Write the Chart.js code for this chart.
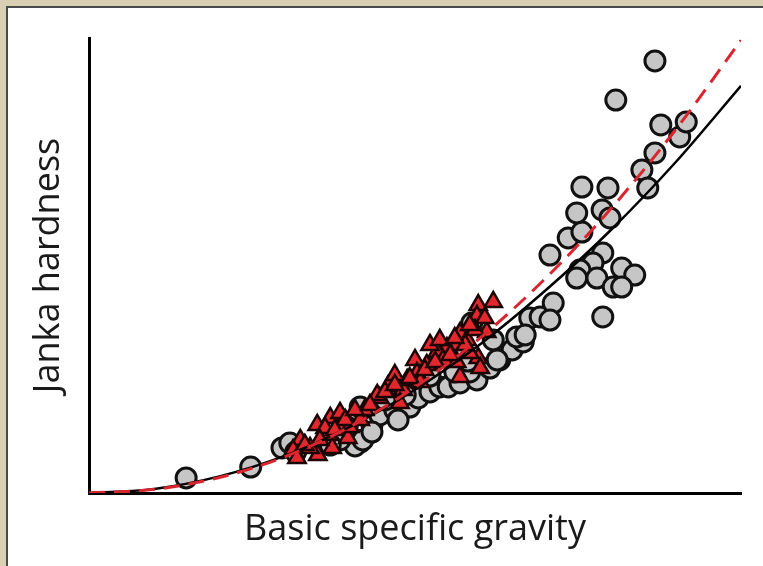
<!DOCTYPE html>
<html>
<head>
<meta charset="utf-8">
<script src="https://cdn.jsdelivr.net/npm/chart.js@4.4.1/dist/chart.umd.min.js"></script>
<style>
  html, body { margin: 0; padding: 0; background: #d8cfb5; }
  canvas { display: block; }
</style>
</head>
<body>
<canvas id="jankaChart" width="763" height="566"></canvas>
<script>
// basic specific gravity (x) / Janka hardness in kN (y)
const circleSG = [0.149, 0.248, 0.296, 0.308, 0.317, 0.396, 0.416, 0.416, 0.408, 0.420, 0.434, 0.446, 0.469, 0.492, 0.505, 0.523, 0.538, 0.551, 0.569, 0.595, 0.615, 0.630, 0.649, 0.666, 0.676, 0.692, 0.712, 0.707, 0.656, 0.626, 0.587, 0.620, 0.707, 0.735, 0.756, 0.748, 0.787, 0.799, 0.756, 0.796, 0.788, 0.773, 0.753, 0.748, 0.779, 0.804, 0.817, 0.837, 0.817, 0.788, 0.848, 0.857, 0.868, 0.877, 0.906, 0.916, 0.808, 0.868, 0.669, 0.561, 0.485, 0.454, 0.385, 0.370, 0.584, 0.581, 0.523, 0.434, 0.474];
const circleHardness = [0.66, 1.14, 1.98, 2.20, 1.80, 2.90, 3.78, 2.24, 2.07, 2.33, 2.99, 3.43, 3.65, 3.78, 4.18, 4.44, 4.66, 4.66, 4.84, 4.97, 5.49, 5.85, 6.29, 6.64, 7.69, 7.74, 8.35, 7.60, 6.86, 5.85, 7.47, 6.73, 10.46, 11.21, 11.47, 12.31, 12.44, 12.09, 13.45, 13.41, 10.55, 10.11, 9.80, 9.45, 9.45, 9.05, 9.89, 9.58, 9.05, 7.74, 14.20, 13.41, 14.95, 16.18, 15.65, 16.31, 17.27, 18.99, 6.95, 5.32, 4.31, 4.09, 2.33, 2.11, 5.32, 5.80, 5.14, 2.68, 3.21];

const triangleSG = [0.620, 0.597, 0.595, 0.569, 0.580, 0.564, 0.610, 0.549, 0.534, 0.543, 0.518, 0.500, 0.503, 0.569, 0.597, 0.584, 0.564, 0.459, 0.482, 0.477, 0.446, 0.488, 0.442, 0.370, 0.350, 0.385, 0.367, 0.397, 0.373, 0.351, 0.324, 0.313, 0.339, 0.319, 0.400, 0.416, 0.385, 0.600, 0.523, 0.469, 0.423, 0.508, 0.331, 0.362, 0.393, 0.408, 0.431, 0.454, 0.469, 0.492, 0.515, 0.531, 0.554, 0.577, 0.592, 0.607, 0.538, 0.354, 0.377, 0.561, 0.584];
const triangleHardness = [8.40, 8.26, 7.78, 7.03, 6.73, 6.51, 7.08, 6.37, 6.20, 5.85, 5.63, 5.85, 5.27, 5.10, 5.93, 6.15, 5.76, 4.70, 4.53, 3.96, 4.18, 4.97, 4.31, 3.30, 2.99, 2.99, 2.55, 2.42, 1.98, 1.67, 2.33, 1.89, 1.98, 1.54, 2.90, 3.21, 3.52, 5.49, 6.51, 5.19, 3.65, 4.88, 2.11, 2.86, 3.21, 3.65, 3.87, 4.44, 4.75, 5.05, 5.41, 5.76, 6.07, 6.51, 7.16, 7.69, 6.73, 2.33, 2.77, 6.81, 7.38];

// fitted curves
const curveSG = [0, 0.1, 0.2, 0.3, 0.4, 0.5, 0.6, 0.7, 0.8, 0.9, 1.0];
const blackFit = [0, 0.18, 0.73, 1.63, 2.91, 4.54, 6.54, 8.90, 11.55, 14.55, 17.90];
const redFit = [0, 0.16, 0.68, 1.59, 2.91, 4.65, 6.82, 9.43, 12.48, 15.98, 19.90];

function toPoints(xs, ys) {
  return xs.map((x, i) => ({ x: x, y: ys[i] }));
}

// beige frame with the white panel
const framePlugin = {
  id: "frame",
  beforeDraw(chart) {
    const c = chart.ctx;
    c.save();
    c.fillStyle = "#d8cfb5";
    c.fillRect(0, 0, chart.width, chart.height);
    c.fillStyle = "#ffffff";
    c.fillRect(7, 7, chart.width, chart.height);
    c.fillStyle = "#4b4b4b";
    c.fillRect(6, 6, 2, chart.height);
    c.fillRect(6, 6, chart.width, 2);
    c.restore();
  }
};

const titleFont = { family: "'Open Sans', 'Noto Sans', sans-serif", size: 36 };

const ctx = document.getElementById("jankaChart").getContext("2d");
const jankaChart = new Chart(ctx, {
  type: "scatter",
  data: {
    datasets: [
      {
        type: "line",
        data: toPoints(curveSG, redFit),
        borderColor: "#d9252e",
        borderWidth: 3,
        borderDash: [16, 9],
        pointRadius: 0,
        cubicInterpolationMode: "monotone",
        fill: false
      },
      {
        type: "line",
        data: toPoints(curveSG, blackFit),
        borderColor: "#000000",
        borderWidth: 2.5,
        pointRadius: 0,
        cubicInterpolationMode: "monotone",
        fill: false
      },
      {
        data: toPoints(triangleSG, triangleHardness),
        pointStyle: "triangle",
        pointRadius: 10,
        backgroundColor: "#e3282d",
        borderColor: "#1c0404",
        borderWidth: 2.5
      },
      {
        data: toPoints(circleSG, circleHardness),
        pointStyle: "circle",
        pointRadius: 10,
        backgroundColor: "#c6c6c6",
        borderColor: "#111111",
        borderWidth: 3
      }
    ]
  },
  options: {
    responsive: false,
    animation: false,
    events: [],
    layout: { padding: { top: 38, right: 22, left: 0, bottom: 0 } },
    plugins: {
      legend: { display: false },
      tooltip: { enabled: false }
    },
    scales: {
      x: {
        type: "linear",
        min: 0,
        max: 1,
        grid: { display: false },
        border: { display: true, color: "#000000", width: 3 },
        ticks: { display: false },
        title: {
          display: true,
          text: "Basic specific gravity",
          color: "#1a1a1a",
          font: titleFont,
          padding: { top: 0, bottom: 15 }
        },
        afterFit(scale) { scale.height = 73; }
      },
      y: {
        type: "linear",
        min: 0,
        max: 20,
        grid: { display: false },
        border: { display: true, color: "#000000", width: 3 },
        ticks: { display: false },
        title: {
          display: true,
          text: "Janka hardness",
          color: "#1a1a1a",
          font: titleFont,
          padding: { top: 27, bottom: 0 }
        },
        afterFit(scale) { scale.width = 89; }
      }
    }
  },
  plugins: [framePlugin]
});
</script>
</body>
</html>
